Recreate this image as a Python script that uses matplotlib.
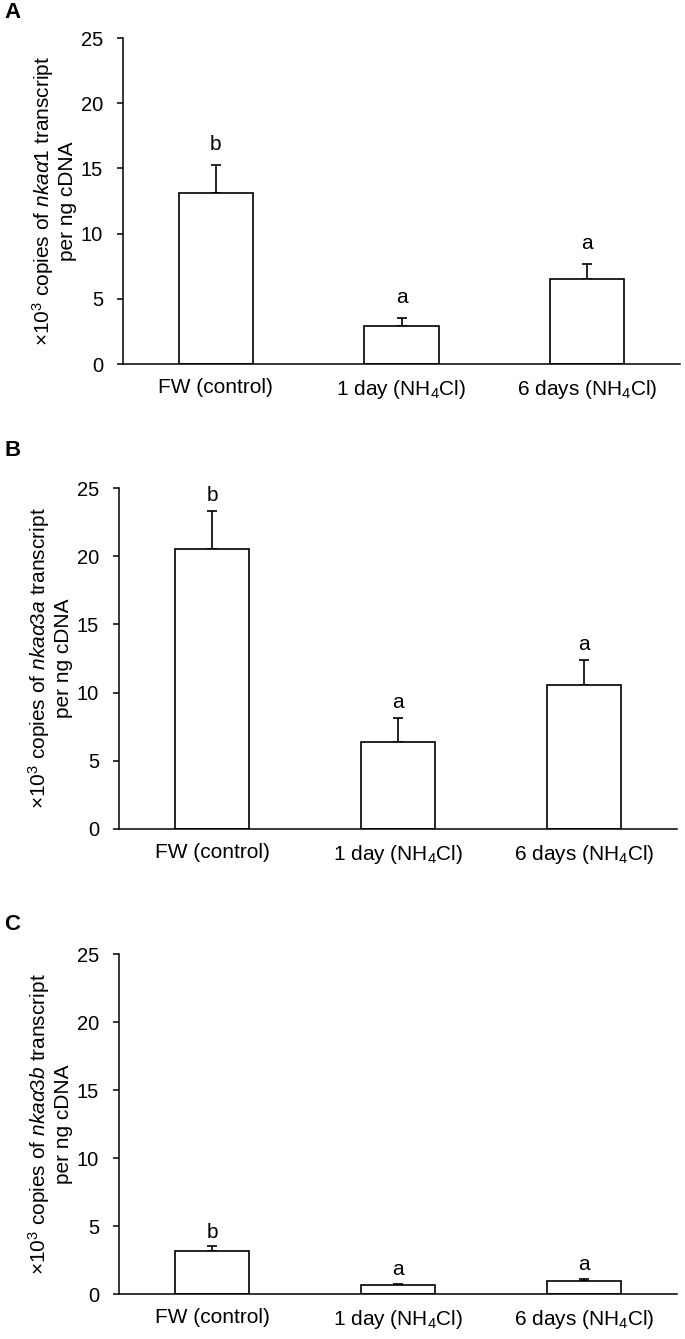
import matplotlib
matplotlib.use("Agg")
import matplotlib.pyplot as plt

# dane
groups = ["FW (control)", "1 day (NH$_4$Cl)", "6 days (NH$_4$Cl)"]
genes = ["nkaα1", "nkaα3a", "nkaα3b"]
panels = ["A", "B", "C"]

mean_a1 = [13.1, 2.9, 6.5]
se_a1 = [2.17, 0.64, 1.17]
sig_a1 = ["b", "a", "a"]

mean_a3a = [20.5, 6.4, 10.57]
se_a3a = [2.83, 1.76, 1.85]
sig_a3a = ["b", "a", "a"]

mean_a3b = [3.15, 0.64, 0.95]
se_a3b = [0.37, 0.12, 0.18]
sig_a3b = ["b", "a", "a"]

yticks = [0, 5, 10, 15, 20, 25]

plt.rcParams['font.family'] = ['Liberation Sans', 'DejaVu Sans']
plt.rcParams['mathtext.fontset'] = 'custom'
plt.rcParams['mathtext.rm'] = 'Liberation Sans'
plt.rcParams['mathtext.it'] = 'Liberation Sans:italic'

fig = plt.figure(figsize=(6.85, 13.39), dpi=100)

# pozycje osi w pikselach (lewo, góra, prawo, dół)
boxes = [(123, 38, 680, 364), (119, 488, 677, 829), (119, 954, 677, 1294)]
W, H = 685, 1339
letter_y = [12, 450, 924]
letter_off = [15, 11, 10]

data = [(mean_a1, se_a1, sig_a1), (mean_a3a, se_a3a, sig_a3a), (mean_a3b, se_a3b, sig_a3b)]

for i, (m, se, sig) in enumerate(data):
    l, t, r, b = boxes[i]
    ax = fig.add_axes([l / W, 1 - b / H, (r - l) / W, (b - t) / H])
    x = range(len(groups))
    ax.bar(x, m, width=0.4, color="white", edgecolor="black", linewidth=1.2, zorder=2)
    ax.errorbar(x, m, yerr=[[0] * 3, se], fmt="none", ecolor="black",
                elinewidth=1.2, capsize=3.5, capthick=1.2, zorder=1)
    for xi, mi, si, s in zip(x, m, se, sig):
        ax.annotate(s, (xi, mi + si), xytext=(0, letter_off[i]), textcoords="offset points",
                    ha="center", va="center", fontsize=15)
    ax.set_xlim(-0.5, 2.5)
    ax.set_ylim(0, 25)
    ax.set_yticks(yticks)
    ax.set_xticks(list(x))
    ax.set_xticklabels(groups)
    ax.tick_params(axis="y", direction="out", length=4.3, width=1.1, labelsize=14.5, pad=10)
    ax.tick_params(axis="x", length=0, labelsize=15, pad=10)
    for sp in ["top", "right"]:
        ax.spines[sp].set_visible(False)
    for sp in ["left", "bottom"]:
        ax.spines[sp].set_linewidth(1.1)
    ax.set_ylabel("×10$^3$ copies of $\\mathit{" + genes[i] + "}$ transcript\nper ng cDNA",
                  fontsize=15, labelpad=3, linespacing=1.1)
    fig.text(4 / W, 1 - letter_y[i] / H, panels[i], fontsize=16, fontweight="bold",
             va="center", ha="left")

plt.savefig("out.png", dpi=100)
plt.close()
